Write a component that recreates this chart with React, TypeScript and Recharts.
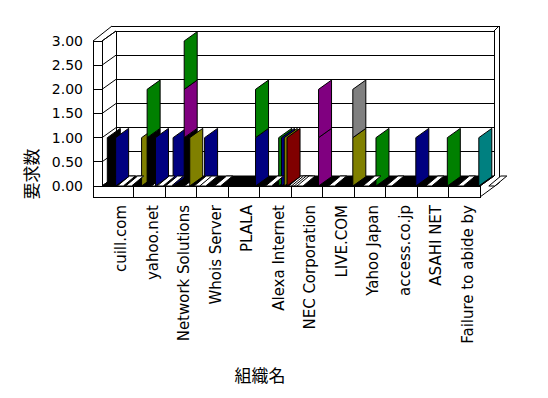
import React from "react";
import { Bar, BarChart, CartesianGrid, Cell, Customized, XAxis, YAxis } from "recharts";

const categories = [
  "cuill.com",
  "yahoo.net",
  "Network Solutions",
  "Whois Server",
  "PLALA",
  "Alexa Internet",
  "NEC Corporation",
  "LIVE.COM",
  "Yahoo Japan",
  "access.co.jp",
  "ASAHI NET",
  "Failure to abide by",
];
const yTicks = [0, 0.5, 1, 1.5, 2, 2.5, 3];

const K = "#000000";
const N = "#000080";
const O = "#808000";
const G = "#008000";
const P = "#800080";
const M = "#800000";
const A = "#808080";
const T = "#008080";
const _ = "none";

// request counts, one array per column slot / stack level
const slot0Base = [1, 0, 0, 0, 0, 0, 0, 0, 0, 0, 0, 0];
const slot0BaseColors = [K, _, _, _, _, _, _, _, _, _, _, _];
const slot1Base = [0, 1, 1, 1, 0, 0, 0, 0, 0, 0, 0, 0];
const slot1BaseColors = [_, O, N, N, _, _, _, _, _, _, _, _];
const slot2Base = [0, 0, 0, 0, 0, 0, 0, 0, 0, 0, 0, 0];
const slot2BaseColors = [_, _, _, _, _, _, _, _, _, _, _, _];
const slot3Base = [1, 1, 0, 0, 0, 0, 0, 0, 0, 0, 0, 0];
const slot3BaseColors = [N, K, _, _, _, _, _, _, _, _, _, _];
const slot3Mid = [0, 1, 0, 0, 0, 0, 0, 0, 0, 0, 0, 0];
const slot3MidColors = [_, G, _, _, _, _, _, _, _, _, _, _];
const slot4Base = [0, 0, 0, 0, 0, 0, 0, 0, 0, 0, 0, 0];
const slot4BaseColors = [_, _, _, _, _, _, _, _, _, _, _, _];
const slot5Base = [0, 0, 1, 0, 0, 1, 0, 0, 0, 0, 0, 0];
const slot5BaseColors = [_, _, K, _, _, G, _, _, _, _, _, _];
const slot5Mid = [0, 0, 1, 0, 0, 0, 0, 0, 0, 0, 0, 0];
const slot5MidColors = [_, _, P, _, _, _, _, _, _, _, _, _];
const slot5Top = [0, 0, 1, 0, 0, 0, 0, 0, 0, 0, 0, 0];
const slot5TopColors = [_, _, G, _, _, _, _, _, _, _, _, _];
const slot6Base = [0, 1, 0, 0, 0, 1, 0, 0, 1, 0, 0, 0];
const slot6BaseColors = [_, N, _, _, _, N, _, _, G, _, _, _];
const slot7Base = [0, 0, 1, 0, 0, 1, 0, 0, 0, 0, 0, 0];
const slot7BaseColors = [_, _, O, _, _, O, _, _, _, _, _, _];
const slot8Base = [0, 0, 0, 0, 1, 1, 1, 0, 0, 0, 0, 0];
const slot8BaseColors = [_, _, _, _, N, M, P, _, _, _, _, _];
const slot8Mid = [0, 0, 0, 0, 1, 0, 1, 0, 0, 0, 0, 0];
const slot8MidColors = [_, _, _, _, G, _, P, _, _, _, _, _];
const slot9Base = [0, 0, 0, 0, 0, 0, 0, 1, 0, 1, 1, 1];
const slot9BaseColors = [_, _, _, _, _, _, _, O, _, N, G, T];
const slot9Mid = [0, 0, 0, 0, 0, 0, 0, 1, 0, 0, 0, 0];
const slot9MidColors = [_, _, _, _, _, _, _, A, _, _, _, _];

const layers = [
  { key: "s0a", slot: 0, level: 0, values: slot0Base, colors: slot0BaseColors },
  { key: "s1a", slot: 1, level: 0, values: slot1Base, colors: slot1BaseColors },
  { key: "s2a", slot: 2, level: 0, values: slot2Base, colors: slot2BaseColors },
  { key: "s3a", slot: 3, level: 0, values: slot3Base, colors: slot3BaseColors },
  { key: "s3b", slot: 3, level: 1, values: slot3Mid, colors: slot3MidColors },
  { key: "s4a", slot: 4, level: 0, values: slot4Base, colors: slot4BaseColors },
  { key: "s5a", slot: 5, level: 0, values: slot5Base, colors: slot5BaseColors },
  { key: "s5b", slot: 5, level: 1, values: slot5Mid, colors: slot5MidColors },
  { key: "s5c", slot: 5, level: 2, values: slot5Top, colors: slot5TopColors },
  { key: "s6a", slot: 6, level: 0, values: slot6Base, colors: slot6BaseColors },
  { key: "s7a", slot: 7, level: 0, values: slot7Base, colors: slot7BaseColors },
  { key: "s8a", slot: 8, level: 0, values: slot8Base, colors: slot8BaseColors },
  { key: "s8b", slot: 8, level: 1, values: slot8Mid, colors: slot8MidColors },
  { key: "s9a", slot: 9, level: 0, values: slot9Base, colors: slot9BaseColors },
  { key: "s9b", slot: 9, level: 1, values: slot9Mid, colors: slot9MidColors },
];

const data = categories.map((name, i) => {
  const row: Record<string, string | number> = { name };
  layers.forEach((l) => {
    row[l.key] = l.values[i];
  });
  return row;
});

// layout: the recharts plot area is the back wall, the front plane is offset by DX/DY
const W = 548;
const H = 398;
const PLOT_L = 116;
const PLOT_R = 494;
const PLOT_T = 31;
const PLOT_B = 176;
const DX = 14;
const DY = 10;
const FRONT_L = PLOT_L - DX;
const FRONT_R = PLOT_R - DX;
const FRONT_B = PLOT_B + DY;
const WALL_OUT = 93;
const SLAB_B = 197;
const BAND = (PLOT_R - PLOT_L) / categories.length;
const SHIFT = 3.3;
const FACE = 13;
const FONT = "'DejaVu Sans', sans-serif";
const CJK = "'Noto Sans CJK JP', sans-serif";

const makeShape = (level: number) => (props: any) => {
  const { x, y, height, fill } = props;
  if (!height || height <= 0 || !fill || fill === "none") return <g />;
  const xl = x - DX + SHIFT;
  const fy = (FACE * DY) / DX;
  const pts = [
    [xl, y + DY],
    [xl + FACE, y + DY - fy],
    [xl + FACE, y + height + DY - fy],
    [xl, y + height + DY],
  ]
    .map((p) => p.join(","))
    .join(" ");
  const yb = y + height;
  return (
    <g>
      {level === 0 && (
        <polygon
          points={`${xl + 10},${yb + DY} ${xl + 16},${yb + DY} ${xl + 28},${yb} ${xl + 22},${yb}`}
          fill="#fff"
          stroke="#000"
          strokeWidth={1}
        />
      )}
      <polygon points={pts} fill={fill} stroke="#000" strokeWidth={1} />
    </g>
  );
};

const YTick = (props: any) => {
  const { y, payload } = props;
  const yF = y + DY;
  return (
    <g>
      <line x1={WALL_OUT} y1={yF} x2={FRONT_L} y2={yF} stroke="#000" shapeRendering="crispEdges" />
      <line x1={FRONT_L} y1={yF} x2={PLOT_L} y2={y} stroke="#000" />
      <text x={83} y={yF} dy="0.35em" textAnchor="end" fontFamily={FONT} fontSize={14} fill="#000">
        {Number(payload.value).toFixed(2)}
      </text>
    </g>
  );
};

const XTick = (props: any) => {
  const { x, payload } = props;
  const xF = x - DX;
  return (
    <g>
      <line
        x1={xF + BAND / 2}
        y1={FRONT_B}
        x2={xF + BAND / 2}
        y2={SLAB_B}
        stroke="#000"
        shapeRendering="crispEdges"
      />
      <text
        transform={`translate(${xF + 3},205) rotate(-90)`}
        textAnchor="end"
        dy="0.35em"
        fontFamily={FONT}
        fontSize={15}
        fill="#000"
      >
        {payload.value}
      </text>
    </g>
  );
};

const Frame = () => (
  <g>
    <polygon
      points={`${FRONT_L},${FRONT_B} ${FRONT_R},${FRONT_B} ${PLOT_R},${PLOT_B} ${PLOT_L},${PLOT_B}`}
      fill="#000"
      stroke="#000"
    />
    <g stroke="#000" strokeWidth={1} fill="none">
      <rect x={WALL_OUT} y={PLOT_T + DY} width={FRONT_L - WALL_OUT} height={FRONT_B - PLOT_T - DY} shapeRendering="crispEdges" />
      <rect x={WALL_OUT} y={FRONT_B} width={FRONT_R - WALL_OUT} height={SLAB_B - FRONT_B} shapeRendering="crispEdges" />
      <line x1={WALL_OUT} y1={PLOT_T + DY} x2={112} y2={26} />
      <line x1={FRONT_L} y1={PLOT_T + DY} x2={PLOT_L} y2={PLOT_T} />
      <line x1={112} y1={26} x2={499} y2={26} shapeRendering="crispEdges" />
      <line x1={PLOT_R} y1={PLOT_T} x2={499} y2={26} />
      <line x1={499} y1={26} x2={499} y2={183} shapeRendering="crispEdges" />
      <line x1={PLOT_L} y1={PLOT_T} x2={PLOT_L} y2={PLOT_B} shapeRendering="crispEdges" />
      <line x1={PLOT_R} y1={PLOT_T} x2={PLOT_R} y2={PLOT_B} shapeRendering="crispEdges" />
      <line x1={FRONT_R} y1={SLAB_B} x2={499} y2={183} />
      <line x1={FRONT_R} y1={FRONT_B} x2={PLOT_R} y2={PLOT_B} />
    </g>
    <text
      transform="translate(32,174) rotate(-90)"
      textAnchor="middle"
      dy="0.35em"
      fontFamily={CJK}
      fontSize={17}
      fill="#000"
    >
      要求数
    </text>
    <text x={260} y={376} dy="0.35em" textAnchor="middle" fontFamily={CJK} fontSize={17} fill="#000">
      組織名
    </text>
  </g>
);

export default function App() {
  return (
    <div style={{ position: "absolute", left: 0, top: 0, width: W, height: H, background: "#fff" }}>
      <BarChart
        width={W}
        height={H}
        data={data}
        margin={{ top: PLOT_T, right: W - PLOT_R, left: PLOT_L - 60, bottom: H - PLOT_B - 30 }}
        barSize={2.78}
        barGap={0}
      >
        <Customized component={<Frame />} />
        <CartesianGrid vertical={false} stroke="#000" strokeWidth={1} shapeRendering="crispEdges" />
        <XAxis
          dataKey="name"
          interval={0}
          height={30}
          axisLine={false}
          tickLine={false}
          tick={<XTick />}
        />
        <YAxis
          domain={[0, 3]}
          ticks={yTicks}
          interval={0}
          width={60}
          axisLine={false}
          tickLine={false}
          tick={<YTick />}
        />
        {layers.map((l) => (
          <Bar
            key={l.key}
            dataKey={l.key}
            stackId={`s${l.slot}`}
            isAnimationActive={false}
            shape={makeShape(l.level)}
          >
            {l.colors.map((c, i) => (
              <Cell key={i} fill={c} />
            ))}
          </Bar>
        ))}
      </BarChart>
    </div>
  );
}
